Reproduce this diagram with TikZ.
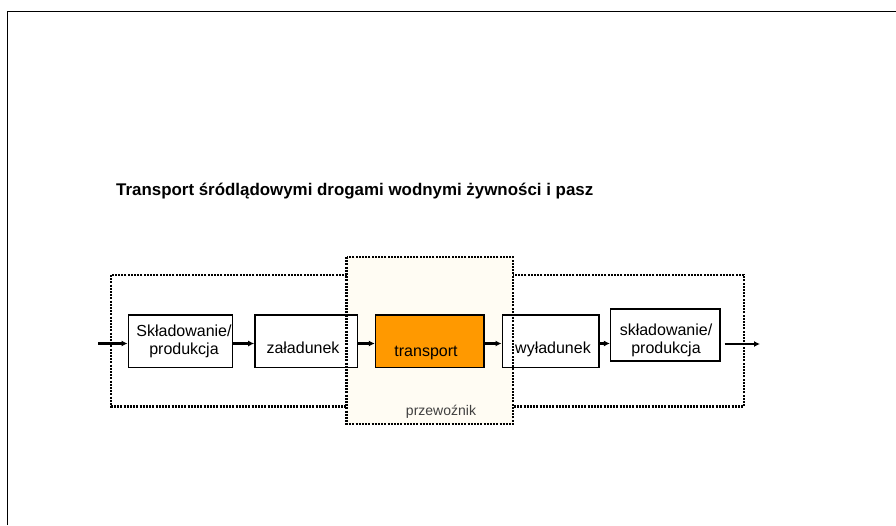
\documentclass[tikz,border=0pt]{standalone}
\usepackage{fontspec}
\setmainfont{Liberation Sans}
\usetikzlibrary{arrows.meta}
\definecolor{carrierfill}{HTML}{FFFCF3}
\definecolor{transportfill}{HTML}{FF9900}
\tikzset{
  stagebox/.style={draw, line width=1.5pt, fill=white, inner sep=0pt},
  stagetext/.style={inner sep=0pt, font=\fontsize{16}{18}\selectfont, align=center},
  dotline/.style={line width=2.4pt, dash pattern=on 2pt off 1.2pt},
  flow/.style={line width=2.2pt, -{Latex[length=6pt,width=6pt]}}
}
\begin{document}
\begin{tikzpicture}[x=1pt,y=-1pt]
      \useasboundingbox (0,0) rectangle (896,525);
      \draw[line width=1.8pt] (7.5,525) -- (7.5,11.5) -- (896,11.5);
      \node[anchor=base west, inner sep=0pt, font=\fontsize{16.9}{20}\selectfont\bfseries]
        (title) at (116,195.5) {Transport śródlądowymi drogami wodnymi żywności i pasz};
      \draw[dotline] (111,275) rectangle (744,406.5);
      \fill[carrierfill] (346.5,257) rectangle (513,424);
      \draw
        (180.5,341.2) node[stagebox, minimum width=104.4, minimum height=52.5] (storea){}
        (306.3,341.2) node[stagebox, minimum width=102.7, minimum height=52.5] (load){}
        (429.8,341.2) node[stagebox, fill=transportfill, minimum width=108.5, minimum height=52.5] (transport){}
        (550.6,341.2) node[stagebox, minimum width=96.7, minimum height=52.5] (unload){}
        (665.3,334.9) node[stagebox, minimum width=109.3, minimum height=51.7] (storeb){};
      \draw[dotline] (346.5,257) rectangle (513,424);
      \node[stagetext, anchor=base] (storea-t) at (184,354) {Składowanie/\\produkcja};
      \node[stagetext, anchor=base] (load-t) at (303,353.3) {załadunek};
      \node[stagetext, anchor=base] (transport-t) at (426,356) {transport};
      \node[stagetext, anchor=base] (unload-t) at (553,353.3) {wyładunek};
      \node[stagetext, anchor=base] (storeb-t) at (666,353.3) {składowanie/\\produkcja};
      \node[anchor=base, inner sep=0pt, text=black!75, font=\fontsize{14}{16}\selectfont]
        (carrier) at (441,415) {przewoźnik};
      \coordinate (in) at (98,343.5);
      \coordinate (out) at (760,344);
      \begin{scope}[flow]
        \draw (in) to (in -| storea.west);
        \draw ([yshift=-2.3]storea.east) to ([yshift=-2.3]load.west);
        \draw ([yshift=-2.3]load.east) to ([yshift=-2.3]transport.west);
        \draw ([yshift=-2.3]transport.east) to ([yshift=-2.3]unload.west);
        \draw ([yshift=-2.3]unload.east) to ([yshift=-2.3]unload.east -| storeb.west);
        \draw (out -| storeb.east) ++(4,0) to (out);
      \end{scope}
    \end{tikzpicture}
\end{document}
